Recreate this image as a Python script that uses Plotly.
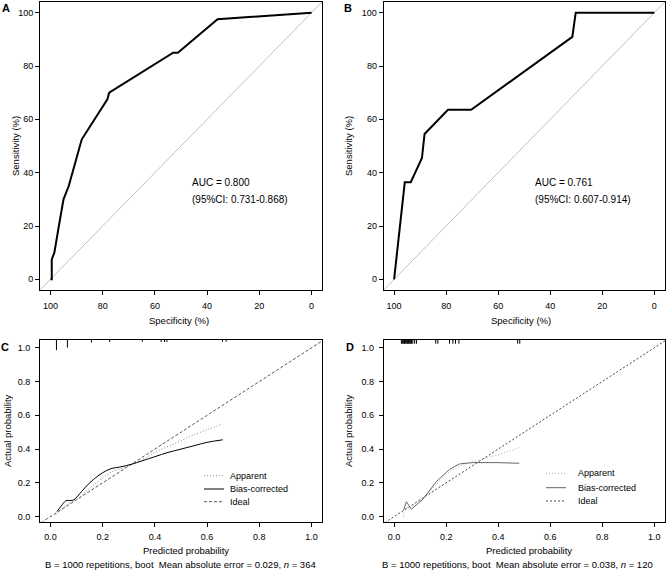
import plotly.graph_objects as go

# ---------------- data ----------------
ROC_A_SPEC = [100, 99.5, 99.5, 98.5, 97, 95, 93, 88, 78.2, 77.5, 53, 51.2, 36, 0]
ROC_A_SENS = [0, 0, 7.5, 10, 18.75, 30, 35, 52.5, 67.5, 70, 85, 85, 97.5, 100]
ROC_B_SPEC = [100, 98, 95.9, 93.6, 89.3, 88.3, 79.3, 70.4, 31.5, 30.2, 0]
ROC_B_SENS = [0, 18.2, 36.4, 36.4, 45.5, 54.5, 63.6, 63.6, 90.9, 100, 100]
ROC_TICKS = [0, 20, 40, 60, 80, 100]
DIAG = [-10, 110]
AUC_A = ["AUC = 0.800", "(95%CI: 0.731-0.868)"]
AUC_B = ["AUC = 0.761", "(95%CI: 0.607-0.914)"]

CAL_C_APP_X = [0.02, 0.04, 0.06, 0.08, 0.10, 0.13, 0.16, 0.20, 0.24, 0.28, 0.32, 0.36, 0.40, 0.45, 0.50, 0.55, 0.60, 0.66]
CAL_C_APP_Y = [0.01, 0.04, 0.07, 0.085, 0.10, 0.14, 0.18, 0.23, 0.27, 0.29, 0.315, 0.345, 0.38, 0.415, 0.45, 0.485, 0.515, 0.55]
CAL_C_BC_X = [0.025, 0.04, 0.06, 0.075, 0.09, 0.12, 0.15, 0.19, 0.23, 0.27, 0.31, 0.35, 0.40, 0.45, 0.50, 0.55, 0.60, 0.66]
CAL_C_BC_Y = [0.03, 0.06, 0.095, 0.095, 0.10, 0.15, 0.20, 0.25, 0.283, 0.295, 0.31, 0.33, 0.355, 0.38, 0.40, 0.42, 0.44, 0.455]
RUG_C_X = [0.023, 0.065, 0.157, 0.227, 0.352, 0.424, 0.437, 0.446, 0.659, 0.673]
RUG_C_H = [0.06, 0.045, 0.015, 0.012, 0.01, 0.012, 0.012, 0.012, 0.01, 0.01]

CAL_D_APP_X = [0.037, 0.037, 0.066, 0.111, 0.162, 0.213, 0.264, 0.315, 0.392, 0.481]
CAL_D_APP_Y = [0.0, 0.05, 0.06, 0.108, 0.19, 0.266, 0.31, 0.33, 0.363, 0.408]
CAL_D_BC_X = [0.037, 0.047, 0.066, 0.111, 0.162, 0.213, 0.251, 0.302, 0.392, 0.481]
CAL_D_BC_Y = [0.04, 0.089, 0.044, 0.103, 0.207, 0.280, 0.312, 0.320, 0.320, 0.316]
RUG_D_X = [0.028, 0.031, 0.034, 0.037, 0.040, 0.043, 0.046, 0.049, 0.052, 0.055, 0.058,
           0.061, 0.064, 0.067, 0.072, 0.079, 0.086, 0.160, 0.168, 0.213, 0.226, 0.236,
           0.249, 0.475, 0.483]
RUG_D_H = [0.022] * 25
CAL_TICKS = [0.0, 0.2, 0.4, 0.6, 0.8, 1.0]
IDEAL = [-0.1, 1.1]
LEGEND_LABELS = ["Apparent", "Bias-corrected", "Ideal"]
SUB_C = "B = 1000 repetitions, boot  Mean absolute error = 0.029, <i>n</i> = 364"
SUB_D = "B = 1000 repetitions, boot  Mean absolute error = 0.038, <i>n</i> = 120"

FONT = "Liberation Sans"
W, H = 666, 571

# line styles
APP_C = dict(color="#888888", width=1, dash="1px,2px")
BC_C = dict(color="black", width=1)
IDEAL_C = dict(color="#555555", width=1, dash="3px,2px")
APP_D = dict(color="#aaaaaa", width=1, dash="1px,2px")
BC_D = dict(color="#666666", width=1)
IDEAL_D = dict(color="#444444", width=1, dash="2px,2px")

fig = go.Figure()

# ROC A
fig.add_trace(go.Scatter(x=DIAG, y=DIAG[::-1], mode="lines", line=dict(color="#c0c0c0", width=1),
                         xaxis="x", yaxis="y", hoverinfo="skip"))
fig.add_trace(go.Scatter(x=ROC_A_SPEC, y=ROC_A_SENS, mode="lines", line=dict(color="black", width=2),
                         xaxis="x", yaxis="y"))
# ROC B
fig.add_trace(go.Scatter(x=DIAG, y=DIAG[::-1], mode="lines", line=dict(color="#c0c0c0", width=1),
                         xaxis="x2", yaxis="y2", hoverinfo="skip"))
fig.add_trace(go.Scatter(x=ROC_B_SPEC, y=ROC_B_SENS, mode="lines", line=dict(color="black", width=2),
                         xaxis="x2", yaxis="y2"))


def rug(xs, hs, top):
    rx, ry = [], []
    for x, h in zip(xs, hs):
        rx += [x, x, None]
        ry += [top, top - h, None]
    return rx, ry


# Calibration C
rx, ry = rug(RUG_C_X, RUG_C_H, 1.046)
fig.add_trace(go.Scatter(x=rx, y=ry, mode="lines", line=dict(color="black", width=1),
                         xaxis="x3", yaxis="y3", hoverinfo="skip"))
fig.add_trace(go.Scatter(x=IDEAL, y=IDEAL, mode="lines", name="Ideal", line=IDEAL_C,
                         xaxis="x3", yaxis="y3"))
fig.add_trace(go.Scatter(x=CAL_C_APP_X, y=CAL_C_APP_Y, mode="lines", name="Apparent",
                         line=dict(**APP_C, shape="spline"), xaxis="x3", yaxis="y3"))
fig.add_trace(go.Scatter(x=CAL_C_BC_X, y=CAL_C_BC_Y, mode="lines", name="Bias-corrected",
                         line=dict(**BC_C, shape="spline"), xaxis="x3", yaxis="y3"))

# Calibration D
rx, ry = rug(RUG_D_X, RUG_D_H, 1.046)
fig.add_trace(go.Scatter(x=rx, y=ry, mode="lines", line=dict(color="black", width=1),
                         xaxis="x4", yaxis="y4", hoverinfo="skip"))
fig.add_trace(go.Scatter(x=IDEAL, y=IDEAL, mode="lines", name="Ideal", line=IDEAL_D,
                         xaxis="x4", yaxis="y4"))
fig.add_trace(go.Scatter(x=CAL_D_APP_X, y=CAL_D_APP_Y, mode="lines", name="Apparent",
                         line=APP_D, xaxis="x4", yaxis="y4"))
fig.add_trace(go.Scatter(x=CAL_D_BC_X, y=CAL_D_BC_Y, mode="lines", name="Bias-corrected",
                         line=BC_D, xaxis="x4", yaxis="y4"))

XL = [40 / W, 322 / W]
XR = [383.7 / W, 664.7 / W]
YT = [1 - 290 / H, 1 - 2 / H]
YB = [1 - 521.7 / H, 1 - 340 / H]

tickfont = dict(family=FONT, size=9, color="black")


def ax(domain, rng, anchor, ticks, fmt=None, standoff=0):
    d = dict(domain=domain, range=rng, anchor=anchor, showline=True, mirror=True,
             linecolor="black", linewidth=1, showgrid=False, zeroline=False,
             ticks="outside", ticklen=4, tickcolor="black", tickwidth=1,
             tickvals=ticks, tickfont=tickfont, ticklabelstandoff=standoff)
    if fmt:
        d["tickformat"] = fmt
    return d


layout = dict(
    width=W, height=H, margin=dict(l=0, r=0, t=0, b=0), showlegend=False,
    paper_bgcolor="white", plot_bgcolor="white",
    font=dict(family=FONT, size=10, color="black"),
    xaxis=ax(XL, [104, -4], "y", ROC_TICKS, standoff=3),
    yaxis=ax(YT, [-4, 104], "x", ROC_TICKS),
    xaxis2=ax(XR, [104, -4], "y2", ROC_TICKS, standoff=3),
    yaxis2=ax(YT, [-4, 104], "x2", ROC_TICKS),
    xaxis3=ax(XL, [-0.04, 1.04], "y3", CAL_TICKS, ".1f", standoff=2),
    yaxis3=ax(YB, [-0.03, 1.046], "x3", CAL_TICKS, ".1f", standoff=3),
    xaxis4=ax(XR, [-0.04, 1.04], "y4", CAL_TICKS, ".1f", standoff=2),
    yaxis4=ax(YB, [-0.03, 1.046], "x4", CAL_TICKS, ".1f", standoff=3),
)
fig.update_layout(**layout)

ann = []
shapes = []


def px_ann(text, x, y, size=10, bold=False, angle=0, xanchor="center"):
    t = f"<b>{text}</b>" if bold else text
    ann.append(dict(text=t, x=x / W, y=1 - y / H, xref="paper", yref="paper", showarrow=False,
                    xanchor=xanchor, yanchor="middle", textangle=angle,
                    font=dict(family=FONT, size=size, color="black")))


px_ann("A", 6, 8, 11, True)
px_ann("B", 348.5, 8, 11, True)
px_ann("C", 5, 347, 11, True)
px_ann("D", 349.5, 347, 11, True)
px_ann("Specificity (%)", 179, 320.7, 9.5)
px_ann("Specificity (%)", 521, 320.7, 9.5)
px_ann("Sensitivity (%)", 15, 146, 9.5, angle=-90)
px_ann("Sensitivity (%)", 348, 146, 9.5, angle=-90)
px_ann("Predicted probability", 186, 550, 9.5)
px_ann("Predicted probability", 529, 550, 9.5)
px_ann("Actual probability", 7, 431, 9.5, angle=-90)
px_ann("Actual probability", 348, 431, 9.5, angle=-90)
px_ann(SUB_C, 180, 564.5, 9.5)
px_ann(SUB_D, 517, 564.5, 9.5)

for xr, yr, lines in [("x", "y", AUC_A), ("x2", "y2", AUC_B)]:
    for i, t in enumerate(lines):
        ann.append(dict(text=t, x=46.5, y=36.3 - 6.3 * i, xref=xr, yref=yr, showarrow=False,
                        xanchor="left", yanchor="middle",
                        font=dict(family=FONT, size=10, color="black")))

# legends (key samples + labels)
for (x0, x1, xt, rows, styles) in [
    (204, 224, 228, [475.7, 489, 501.7], [APP_C, BC_C, IDEAL_C]),
    (546, 566, 576, [473.3, 487.7, 501], [APP_D, BC_D, IDEAL_D]),
]:
    for label, yy, st in zip(LEGEND_LABELS, rows, styles):
        shapes.append(dict(type="line", xref="paper", yref="paper", x0=x0 / W, x1=x1 / W,
                           y0=1 - yy / H, y1=1 - yy / H, line=st))
        px_ann(label, xt, yy, 9, xanchor="left")

fig.update_layout(annotations=ann, shapes=shapes)
fig.write_html("out.html", config={"displayModeBar": False},
               post_script="document.body.style.margin='0';document.body.style.overflow='hidden';")
